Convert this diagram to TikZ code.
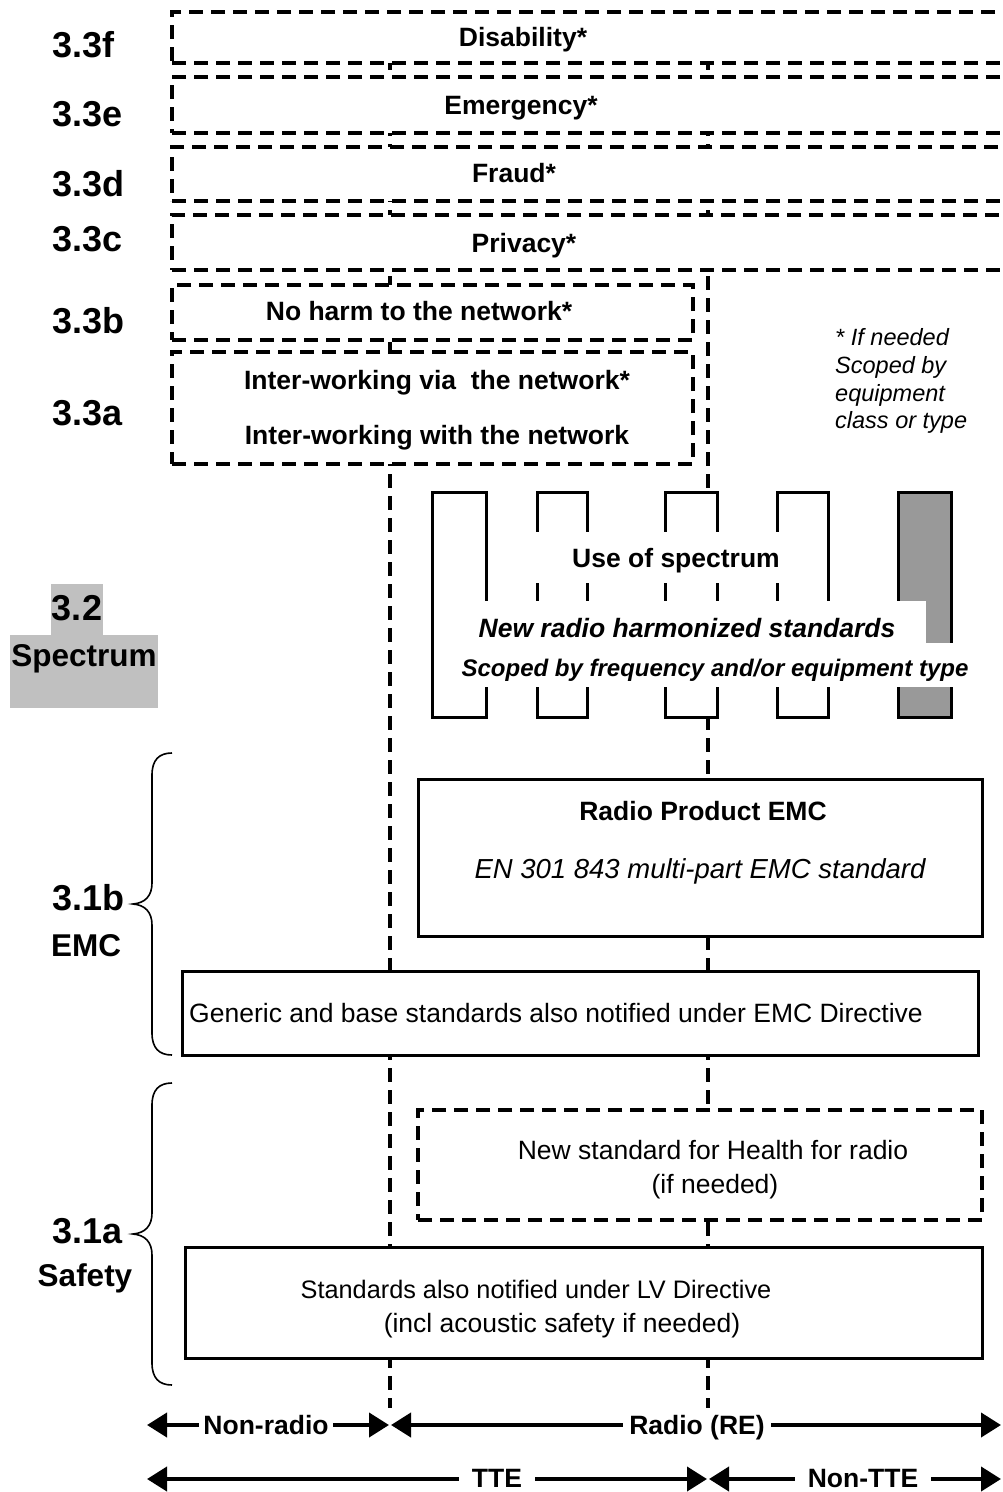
\documentclass[tikz,border=0pt]{standalone}
\usepackage{fontspec}
\setmainfont{Liberation Sans}
\usetikzlibrary{arrows.meta}
\definecolor{specgray}{HTML}{999999}
\definecolor{lblgray}{HTML}{C0C0C0}
\begin{document}
\begin{tikzpicture}[x=1pt,y=-1pt,
  dsh/.style={line width=3.5pt, dash pattern=on 14pt off 8pt},
  dbox/.style={draw, dsh, fill=white, inner sep=0pt},
  sbox/.style={draw, line width=3pt, fill=white, inner sep=0pt},
  band/.style={fill=white, inner sep=0pt},
  bt/.style={font=\fontsize{26.5pt}{30pt}\selectfont\bfseries, inner sep=0pt, text height=19pt, text depth=0pt},
  rt/.style={font=\fontsize{26.5pt}{30pt}\selectfont, inner sep=0pt, text height=19pt, text depth=0pt},
  rts/.style={font=\fontsize{25.3pt}{30pt}\selectfont, inner sep=0pt, text height=18pt, text depth=0pt},
  itx/.style={font=\fontsize{27.5pt}{31pt}\selectfont\itshape, inner sep=0pt, text height=19.5pt, text depth=0pt},
  bit/.style={font=\fontsize{26.5pt}{30pt}\selectfont\bfseries\itshape, inner sep=0pt, text height=19pt, text depth=0pt},
  bits/.style={font=\fontsize{24pt}{28pt}\selectfont\bfseries\itshape, inner sep=0pt, text height=17pt, text depth=0pt},
  num/.style={font=\fontsize{36pt}{40pt}\selectfont\bfseries, inner sep=0pt, text height=26pt, text depth=0pt, anchor=west},
  sub/.style={font=\fontsize{31.5pt}{36pt}\selectfont\bfseries, inner sep=0pt, text height=22.5pt, text depth=0pt},
  note/.style={font=\fontsize{23.5pt}{27pt}\selectfont\itshape, inner sep=0pt, text height=17pt, text depth=0pt, anchor=west},
  arr/.style={line width=4pt, {Triangle[length=20pt,width=24pt]}-{Triangle[length=20pt,width=24pt]}},
  albl/.style={font=\fontsize{26.5pt}{30pt}\selectfont\bfseries, fill=white, inner ysep=0pt, text height=19pt, text depth=0pt},
  brace/.style={line width=1.6pt}
]
\useasboundingbox (0,0) rectangle (1002,1492);

% vertical guide lines
\coordinate (g1t) at (390,12);
\coordinate (g1b) at (390,1408);
\coordinate (g2t) at (708,12);
\coordinate (g2b) at (708,1408);
\draw[dsh] (g1t) -- (g1b);
\draw[dsh] (g2t) -- (g2b);

% 3.3 boxes
\node[dbox, minimum width=848pt, minimum height=51pt] (b3f) at (596,37.5) {};
\node[dbox, minimum width=848pt, minimum height=56pt] (b3e) at (596,105) {};
\node[dbox, minimum width=848pt, minimum height=54pt] (b3d) at (596,174) {};
\node[dbox, minimum width=848pt, minimum height=55pt] (b3c) at (596,242.5) {};
\node[dbox, minimum width=521pt, minimum height=55pt] (b3b) at (432.5,312.5) {};
\node[dbox, minimum width=521pt, minimum height=112pt] (b3a) at (432.5,408) {};

\node[bt] (t3f) at (523,37) {Disability*};
\node[bt] (t3e) at (521,105) {Emergency*};
\node[bt] (t3d) at (514,173) {Fraud*};
\node[bt] (t3c) at (524,243) {Privacy*};
\node[bt] (t3b) at (419,311) {No harm to the network*};
\node[bt] (t3a1) at (437,380) {Inter-working via\ \ the network*};
\node[bt] (t3a2) at (437,435) {Inter-working with the network};

% left labels
\node[num] (l3f) at (52,44) {3.3f};
\node[num] (l3e) at (52,113) {3.3e};
\node[num] (l3d) at (52,183) {3.3d};
\node[num] (l3c) at (52,238) {3.3c};
\node[num] (l3b) at (52,320) {3.3b};
\node[num] (l3a) at (52,412) {3.3a};

% note
\node[note] (n1) at (835,337) {* If needed};
\node[note] (n2) at (835,365) {Scoped by};
\node[note] (n3) at (835,393) {equipment};
\node[note] (n4) at (835,420) {class or type};

% spectrum columns
\node[sbox, minimum width=54pt, minimum height=225pt] (r1) at (459,604.5) {};
\node[sbox, minimum width=50pt, minimum height=225pt] (r2) at (562,604.5) {};
\node[sbox, minimum width=52pt, minimum height=225pt] (r3) at (691,604.5) {};
\node[sbox, minimum width=51pt, minimum height=225pt] (r4) at (802.5,604.5) {};
\node[sbox, fill=specgray, minimum width=53pt, minimum height=225pt] (r5) at (924.5,604.5) {};

\node[band, minimum width=285pt, minimum height=51pt] (sb1) at (672.5,557.5) {};
\node[band, minimum width=476pt, minimum height=42pt] (sb2) at (688,622) {};
\node[band, minimum width=530pt, minimum height=44pt] (sb3) at (710,665) {};

\node[bt] (ts1) at (676,558) {Use of spectrum};
\node[bit] (ts2) at (687,628) {New radio harmonized standards};
\node[bits] (ts3) at (715,668) {Scoped by frequency and/or equipment type};

% 3.2 label
\fill[lblgray] (51,584) rectangle (103,635);
\fill[lblgray] (10,635) rectangle (158,708);
\node[num, anchor=center] (l32) at (77,607) {3.2};
\node[sub] (lspec) at (84,655) {Spectrum};

% EMC
\node[sbox, minimum width=564pt, minimum height=157pt] (remc) at (700,857.5) {};
\node[bt] (tremc1) at (703,811) {Radio Product EMC};
\node[itx] (tremc2) at (700,869) {EN 301 843 multi-part EMC standard};

\node[sbox, minimum width=796pt, minimum height=84pt] (gen) at (580,1013) {};
\node[rt] (tgen) at (556,1013) {Generic and base standards also notified under EMC Directive};

% Safety
\node[dbox, minimum width=564pt, minimum height=110pt] (hlth) at (700,1165) {};
\node[rt] (th1) at (713,1150) {New standard for Health for radio};
\node[rt] (th2) at (715,1184) {(if needed)};

\node[sbox, minimum width=797pt, minimum height=111pt] (lv) at (583.5,1302.5) {};
\node[rts] (tlv1) at (536,1289) {Standards also notified under LV Directive};
\node[rt] (tlv2) at (562,1323) {(incl acoustic safety if needed)};

% braces and labels
\draw[brace] (172,753) .. controls (159,753) and (152,760) .. (152,775) -- (152,883)
  .. controls (152,896) and (145,903) .. (133,904) .. controls (145,905) and (152,912) .. (152,925)
  -- (152,1033) .. controls (152,1048) and (159,1055) .. (172,1055);
\draw[brace] (172,1083) .. controls (159,1083) and (152,1090) .. (152,1105) -- (152,1213)
  .. controls (152,1226) and (145,1233) .. (133,1234) .. controls (145,1235) and (152,1242) .. (152,1255)
  -- (152,1363) .. controls (152,1378) and (159,1385) .. (172,1385);
\node[num] (l31b) at (52,897) {3.1b};
\node[sub] (lemc) at (86,945) {EMC};
\node[num] (l31a) at (52,1230) {3.1a};
\node[sub] (lsaf) at (85,1275) {Safety};

% bottom arrows
\coordinate (a1) at (147,1425);
\coordinate (a2) at (389,1425);
\coordinate (a3) at (391,1425);
\coordinate (a4) at (1001,1425);
\coordinate (c1) at (147,1479);
\coordinate (c2) at (707,1479);
\coordinate (c3) at (709,1479);
\coordinate (c4) at (1001,1479);
\draw[arr] (a1) -- (a2);
\draw[arr] (a3) -- (a4);
\draw[arr] (c1) -- (c2);
\draw[arr] (c3) -- (c4);
\node[albl, inner xsep=4pt] (nonradio) at (266,1425) {Non-radio};
\node[albl, inner xsep=6pt] (radio) at (697,1425) {Radio (RE)};
\node[albl, inner xsep=13pt] (tte) at (497,1478) {TTE};
\node[albl, inner xsep=13pt] (nontte) at (863,1478) {Non-TTE};
\end{tikzpicture}
\end{document}
